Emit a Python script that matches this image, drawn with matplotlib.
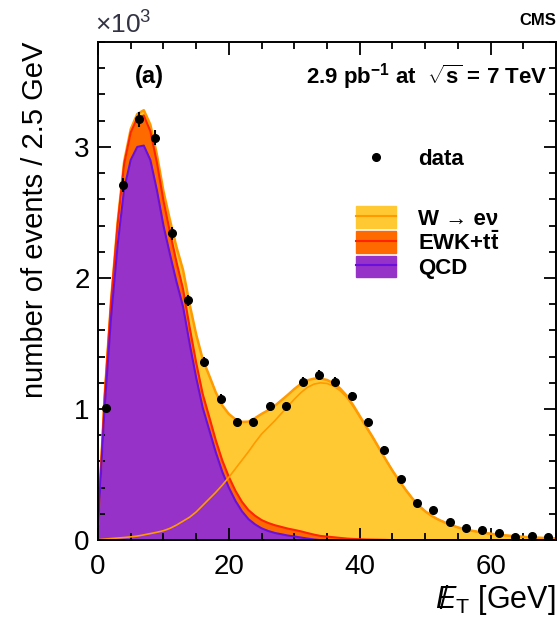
import numpy as np
import matplotlib
matplotlib.use('Agg')
import matplotlib.pyplot as plt
from matplotlib.patches import Patch
from matplotlib.lines import Line2D
from matplotlib.ticker import MultipleLocator

# data points, events / 2.5 GeV in units of 10^3
data_x = [1.25, 3.75, 6.25, 8.75, 11.25, 13.75, 16.25, 18.75, 21.25, 23.75,
          26.25, 28.75, 31.25, 33.75, 36.25, 38.75, 41.25, 43.75, 46.25, 48.75,
          51.25, 53.75, 56.25, 58.75, 61.25, 63.75, 66.25, 68.75]
data_y = [1.01, 2.71, 3.21, 3.07, 2.34, 1.83, 1.36, 1.08, 0.90, 0.90,
          1.02, 1.02, 1.21, 1.26, 1.21, 1.10, 0.90, 0.69, 0.47, 0.28,
          0.23, 0.14, 0.09, 0.075, 0.053, 0.023, 0.03, 0.023]

# template shapes read at every GeV (0..70), events / 2.5 GeV (x10^3)
met = list(range(0, 71))
qcd = [0.1, 1.0, 1.7, 2.25, 2.68, 2.9, 3.0, 3.01, 2.9, 2.67,
       2.4, 2.18, 1.97, 1.78, 1.5, 1.24, 1.01, 0.84, 0.67, 0.52,
       0.4, 0.3, 0.22, 0.16, 0.12, 0.09, 0.07, 0.055, 0.045, 0.035,
       0.028, 0.02, 0.012, 0.005, 0, 0, 0, 0, 0, 0,
       0, 0, 0, 0, 0, 0, 0, 0, 0, 0,
       0, 0, 0, 0, 0, 0, 0, 0, 0, 0,
       0, 0, 0, 0, 0, 0, 0, 0, 0, 0, 0]
ewk = [0.02, 0.08, 0.12, 0.16, 0.19, 0.21, 0.22, 0.23, 0.22, 0.21,
       0.19, 0.17, 0.15, 0.135, 0.125, 0.115, 0.105, 0.1, 0.092, 0.087,
       0.082, 0.077, 0.072, 0.069, 0.066, 0.063, 0.061, 0.059, 0.056, 0.053,
       0.05, 0.047, 0.042, 0.037, 0.032, 0.027, 0.022, 0.017, 0.012, 0.009,
       0.007, 0.005, 0.004, 0.003, 0.002, 0, 0, 0, 0, 0,
       0, 0, 0, 0, 0, 0, 0, 0, 0, 0,
       0, 0, 0, 0, 0, 0, 0, 0, 0, 0, 0]
wenu = [0.003, 0.008, 0.012, 0.016, 0.02, 0.025, 0.031, 0.04, 0.05, 0.06,
        0.072, 0.09, 0.115, 0.145, 0.175, 0.215, 0.265, 0.315, 0.365, 0.42,
        0.48, 0.545, 0.61, 0.675, 0.745, 0.81, 0.86, 0.91, 0.965, 1.02,
        1.075, 1.125, 1.165, 1.19, 1.2, 1.195, 1.175, 1.14, 1.09, 1.02,
        0.94, 0.86, 0.78, 0.695, 0.61, 0.53, 0.455, 0.385, 0.32, 0.265,
        0.22, 0.185, 0.157, 0.135, 0.115, 0.097, 0.084, 0.073, 0.064, 0.056,
        0.049, 0.043, 0.037, 0.033, 0.029, 0.025, 0.022, 0.019, 0.017, 0.015, 0.013]

c_w, c_wl = '#ffc933', '#ff9a00'
c_e, c_el = '#ff6a00', '#ff2400'
c_q, c_ql = '#9632c8', '#6a10dc'

plt.rcParams['font.family'] = ['Liberation Sans', 'DejaVu Sans']
plt.rcParams['mathtext.fontset'] = 'custom'
plt.rcParams['mathtext.rm'] = 'Liberation Sans'
plt.rcParams['mathtext.it'] = 'Liberation Sans:italic'
plt.rcParams['mathtext.bf'] = 'Liberation Sans:bold'

fig = plt.figure(figsize=(5.6, 6.18), dpi=100)
ax = fig.add_axes([0.175, 0.126, 0.818, 0.806])

q = np.array(qcd)
e = np.array(ewk)
w = np.array(wenu)
tot = q + e + w

# stacked: QCD, EWK+ttbar, W->enu
ax.fill_between(met, 0, tot, color=c_w, lw=0)
ax.plot(met, tot, color=c_wl, lw=1.8)
ax.fill_between(met, 0, q + e, color=c_e, lw=0)
ax.plot(met, q + e, color=c_el, lw=1.5)
ax.fill_between(met, 0, q, color=c_q, lw=0)
ax.plot(met, q, color=c_ql, lw=1.5)
ax.plot(met, w, color=c_wl, lw=1.2)  # W alone

dy = np.sqrt(np.array(data_y) * 1000) / 1000
ax.errorbar(data_x, data_y, yerr=dy, fmt='o', color='black', ms=5.5, elinewidth=1.5, capsize=0, zorder=5)

ax.set_xlim(0, 70)
ax.set_ylim(0, 3.8)
ax.xaxis.set_major_locator(MultipleLocator(20))
ax.xaxis.set_minor_locator(MultipleLocator(5))
ax.yaxis.set_major_locator(MultipleLocator(1))
ax.yaxis.set_minor_locator(MultipleLocator(0.2))
ax.tick_params(which='both', direction='in', top=True, right=True, width=1.3, labelsize=20)
ax.tick_params(axis='x', pad=10)
ax.tick_params(axis='y', pad=6)
ax.tick_params(which='major', length=9)
ax.tick_params(which='minor', length=5)
for s in ax.spines.values():
    s.set_linewidth(1.4)

ax.set_ylabel('number of events / 2.5 GeV', fontsize=21, loc='top', labelpad=18)
ax.set_xlabel(r'$\not\!\!E_\mathrm{T}$ [GeV]', fontsize=22, loc='right', labelpad=2)

fig.text(0.170, 0.937, r'$\times10^3$', fontsize=19, ha='left', va='bottom', color='#333344')
fig.text(0.993, 0.967, 'CMS', fontsize=12, fontweight='bold', ha='right', va='center')
ax.text(0.08, 0.93, '(a)', transform=ax.transAxes, fontsize=17, fontweight='bold', va='center')
ax.text(0.98, 0.93, r'2.9 pb$^{\mathbf{-1}}$ at  $\sqrt{\mathbf{s}}$ = 7 TeV', transform=ax.transAxes,
        fontsize=16, fontweight='bold', ha='right', va='center')

h_data = Line2D([], [], marker='o', color='black', ls='none', ms=5.5)
leg1 = ax.legend([h_data], ['data'], loc='upper left', bbox_to_anchor=(0.52, 0.825), frameon=False,
                 prop={'size': 16, 'weight': 'bold'}, handlelength=1.8, handletextpad=1.0)
ax.add_artist(leg1)
hw = (Patch(fc=c_w, ec=c_w), Line2D([], [], color=c_wl, lw=1.5))
he = (Patch(fc=c_e, ec=c_e), Line2D([], [], color=c_el, lw=1.5))
hq = (Patch(fc=c_q, ec=c_q), Line2D([], [], color=c_ql, lw=1.5))
ax.legend([hw, he, hq], ['W → eν', r'EWK+t$\mathbf{\bar{t}}$', 'QCD'],
          loc='upper left', bbox_to_anchor=(0.52, 0.71), frameon=False,
          prop={'size': 16, 'weight': 'bold'}, handlelength=1.8, handleheight=1.1,
          handletextpad=1.0, labelspacing=0.05)

fig.savefig('out.png', dpi=100)
